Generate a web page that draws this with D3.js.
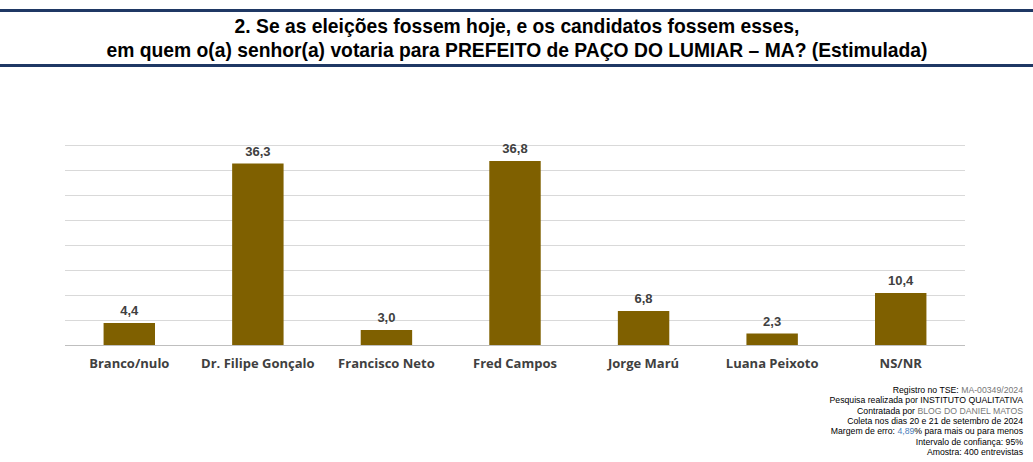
<!DOCTYPE html>
<html><head><meta charset="utf-8">
<script src="https://cdn.jsdelivr.net/npm/d3@7"></script>
<style>body{margin:0;background:#fff}text{font-family:"Liberation Sans",Arial,sans-serif}</style>
</head><body><div id="chart"></div>
<script>
const categories=["Branco/nulo","Dr. Filipe Gonçalo","Francisco Neto","Fred Campos","Jorge Marú","Luana Peixoto","NS/NR"]
const values=[4.4,36.3,3.0,36.8,6.8,2.3,10.4]
const gridTicks=[0,5,10,15,20,25,30,35,40]
const notes=[
 [["Registro no TSE: ","#000"],["MA-00349/2024","#777"]],
 [["Pesquisa realizada por INSTITUTO QUALITATIVA","#000"]],
 [["Contratada por  ","#000"],["BLOG DO DANIEL MATOS","#777"]],
 [["Coleta nos dias 20 e 21 de setembro de 2024","#000"]],
 [["Margem de erro: ","#000"],["4,89","#4a7ebb"],["% para mais ou para menos","#000"]],
 [["Intervalo de confiança: 95%","#000"]],
 [["Amostra: 400 entrevistas","#000"]]
]
const W=1033,H=462
const svg=d3.select("#chart").append("svg").attr("width",W).attr("height",H)
svg.append("rect").attr("x",0).attr("y",9).attr("width",W).attr("height",3).attr("fill","#1f3864")
svg.append("rect").attr("x",0).attr("y",64).attr("width",W).attr("height",3).attr("fill","#1f3864")
svg.append("text").attr("x",517).attr("y",33).attr("text-anchor","middle").attr("font-weight","bold").attr("font-size",19.3)
  .text("2. Se as eleições fossem hoje, e os candidatos fossem esses,")
svg.append("text").attr("x",517).attr("y",57).attr("text-anchor","middle").attr("font-weight","bold").attr("font-size",19.3)
  .text("em quem o(a) senhor(a) votaria para PREFEITO de PAÇO DO LUMIAR – MA? (Estimulada)")
const x=d3.scaleBand().domain(categories).range([65,965]).paddingInner(0.6).paddingOuter(0.3)
const y=d3.scaleLinear().domain([0,40]).range([345,145])
svg.selectAll("line.g").data(gridTicks).enter().append("line")
  .attr("x1",65).attr("x2",965).attr("y1",d=>y(d)+0.5).attr("y2",d=>y(d)+0.5)
  .attr("stroke",d=>d===0?"#bfbfbf":"#d9d9d9").attr("stroke-width",1)
svg.selectAll("rect.b").data(values).enter().append("rect")
  .attr("x",(d,i)=>x(categories[i])).attr("width",x.bandwidth())
  .attr("y",d=>y(d)).attr("height",d=>y(0)-y(d)).attr("fill","#7f6000")
svg.selectAll("text.v").data(values).enter().append("text")
  .attr("x",(d,i)=>x(categories[i])+x.bandwidth()/2).attr("y",d=>y(d)-8)
  .attr("text-anchor","middle").attr("font-weight","bold").attr("font-size",13).attr("fill","#404040")
  .text(d=>d.toFixed(1).replace(".",","))
svg.selectAll("text.c").data(categories).enter().append("text")
  .attr("x",d=>x(d)+x.bandwidth()/2).attr("y",368).attr("text-anchor","middle")
  .attr("font-weight","bold").attr("font-size",13).attr("fill","#404040").style("font-family","'Open Sans',sans-serif").text(d=>d)
notes.forEach((parts,i)=>{
  const t=svg.append("text").attr("x",1023).attr("y",393+i*10.3).attr("text-anchor","end").attr("font-size",8.7)
  parts.forEach(p=>t.append("tspan").attr("fill",p[1]).text(p[0]))
})
</script></body></html>
